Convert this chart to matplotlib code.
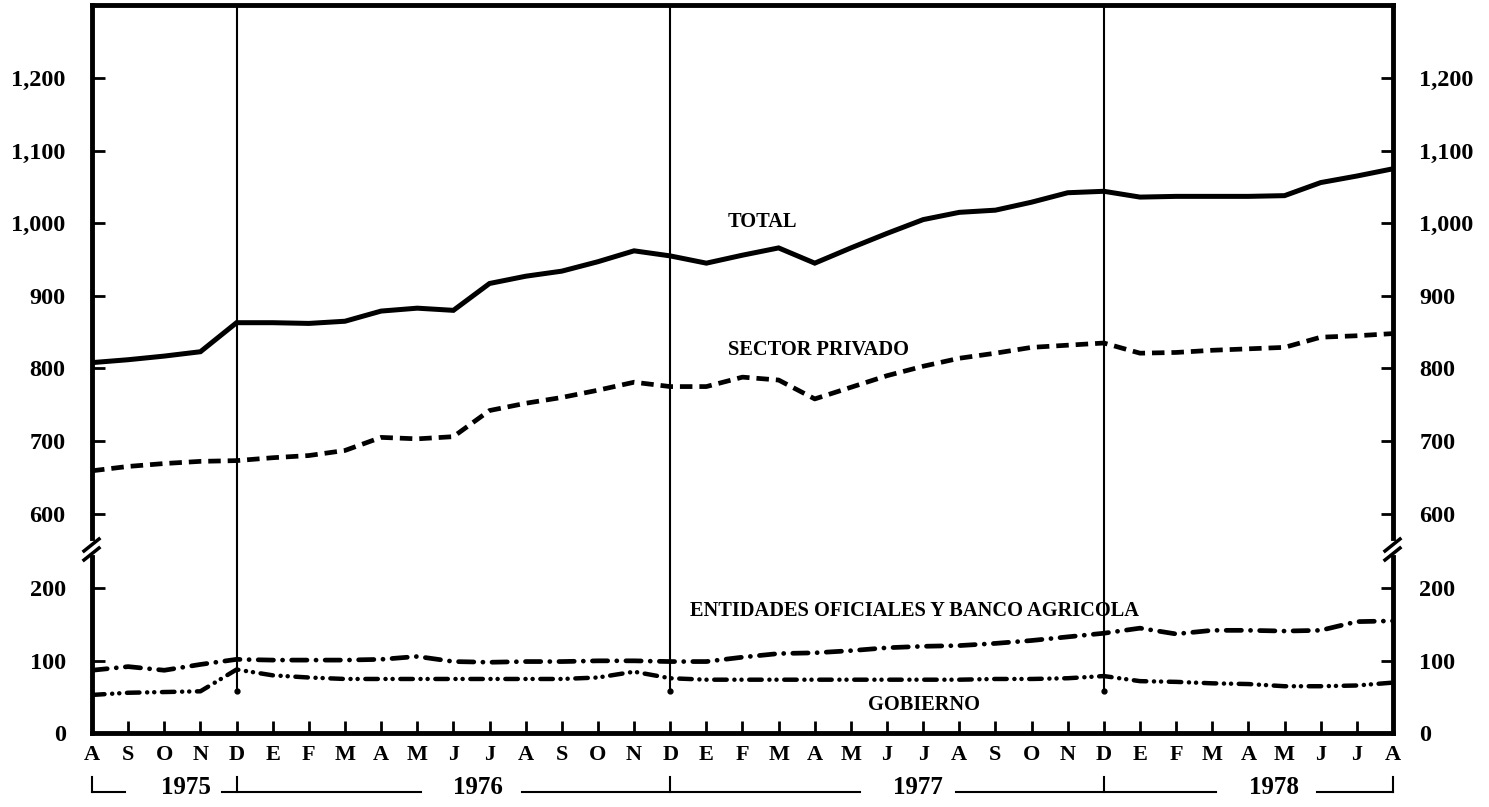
import matplotlib
matplotlib.use('Agg')
import matplotlib.pyplot as plt
import matplotlib.transforms as mtransforms
from matplotlib.ticker import StrMethodFormatter
from matplotlib.lines import Line2D

plt.rcParams['font.family'] = 'Liberation Serif'
plt.rcParams['font.weight'] = 'bold'
plt.rcParams['lines.scale_dashes'] = False

# meses de agosto 1975 a agosto 1978
meses = ['A', 'S', 'O', 'N', 'D', 'E', 'F', 'M', 'A', 'M', 'J', 'J', 'A', 'S', 'O', 'N', 'D',
         'E', 'F', 'M', 'A', 'M', 'J', 'J', 'A', 'S', 'O', 'N', 'D',
         'E', 'F', 'M', 'A', 'M', 'J', 'J', 'A']
total = [808, 812, 817, 823, 863, 863, 862, 865, 879, 883, 880, 917, 927, 934, 947, 962, 955,
         945, 956, 966, 945, 966, 986, 1005, 1015, 1018, 1029, 1042, 1044,
         1036, 1037, 1037, 1037, 1038, 1056, 1065, 1075]
privado = [659, 665, 669, 672, 673, 677, 680, 687, 705, 703, 706, 742, 752, 760, 770, 781, 775,
           775, 788, 784, 758, 774, 790, 803, 814, 821, 829, 832, 835,
           821, 822, 825, 827, 829, 843, 845, 848]
entidades = [87, 92, 87, 95, 102, 101, 101, 101, 102, 106, 99, 98, 99, 99, 100, 100, 99,
             99, 105, 110, 111, 114, 118, 120, 121, 124, 128, 133, 138,
             145, 137, 142, 142, 141, 142, 154, 155]
gobierno = [53, 56, 57, 58, 88, 80, 77, 75, 75, 75, 75, 75, 75, 75, 77, 85, 76,
            74, 74, 74, 74, 74, 74, 74, 74, 75, 75, 76, 79,
            72, 71, 69, 68, 65, 65, 66, 70]
anios = ['1975', '1976', '1977', '1978']
ticks_arriba = [600, 700, 800, 900, 1000, 1100, 1200]
ticks_abajo = [0, 100, 200]

x = list(range(len(meses)))
diciembres = [i for i, m in enumerate(meses) if m == 'D']

fig = plt.figure(figsize=(14.89, 8.07), dpi=100)
axt = fig.add_axes([0.0618, 0.3209, 0.8737, 0.6729])
axb = fig.add_axes([0.0618, 0.0912, 0.8737, 0.2297])

axt.set_ylim(552.6, 1300.6)
axb.set_ylim(0, 255.4)
for ax in (axt, axb):
    ax.set_xlim(0, len(meses) - 1)
    for s in ax.spines.values():
        s.set_linewidth(3.5)
    ax.tick_params(axis='y', which='both', direction='in', length=9, width=2,
                   left=True, right=True, labelleft=True, labelright=True,
                   labelsize=17.5, pad=19)
    ax.yaxis.set_major_formatter(StrMethodFormatter('{x:,.0f}'))

axt.spines['bottom'].set_visible(False)
axb.spines['top'].set_visible(False)
axt.spines['left'].set_bounds(567, 1300.6)
axt.spines['right'].set_bounds(567, 1300.6)
axb.spines['left'].set_bounds(0, 243)
axb.spines['right'].set_bounds(0, 243)

axt.set_yticks(ticks_arriba)
axb.set_yticks(ticks_abajo)
axt.set_xticks([])
axb.set_xticks(x)
axb.set_xticklabels(meses)
axb.tick_params(axis='x', direction='in', length=9, width=2, labelsize=16, pad=8)

# lineas de diciembre
for d in diciembres:
    axt.axvline(d, color='black', lw=1.5)
    axb.plot([d, d], [59, 255.4], color='black', lw=1.5, solid_capstyle='round')
    axb.plot(d, 59, 'o', color='black', ms=3.5)

axt.plot(x, total, color='black', lw=3.6, solid_joinstyle='miter')
axt.plot(x, privado, color='black', lw=3.4, dashes=(9, 5))
axb.plot(x, entidades, color='black', lw=3.4, dashes=(11, 6.5, 0.1, 6.5), dash_capstyle='round')
axb.plot(x, gobierno, color='black', lw=3.2, dashes=(9, 5.5, 0.1, 5, 0.1, 5.5), dash_capstyle='round')

axt.text(17.6, 1002, 'TOTAL', fontsize=14.7, va='center', ha='left')
axt.text(17.6, 826, 'SECTOR PRIVADO', fontsize=14.7, va='center', ha='left')
axb.text(16.55, 168, 'ENTIDADES OFICIALES Y BANCO AGRICOLA', fontsize=14.7, va='center', ha='left')
axb.text(21.47, 39, 'GOBIERNO', fontsize=14.7, va='center', ha='left')

# marcas de corte del eje
for xf in (92 / 1489, 1393 / 1489):
    for dy in (0, 9):
        y0 = (807 - 551 - dy) / 807
        y1 = (807 - 539 - dy) / 807
        fig.add_artist(Line2D([xf - 8 / 1489, xf + 7 / 1489], [y0, y1],
                              transform=fig.transFigure, color='black', lw=2.5))

# fila de anios
tr = mtransforms.blended_transform_factory(axb.transData, fig.transFigure)
ylin = (807 - 792) / 807
ytick = (807 - 777) / 807
segmentos = [(0, 0.9), (3.6, 9.1), (11.9, 21.25), (23.9, 31.1), (33.9, 36)]
for a, b in segmentos:
    axb.add_line(Line2D([a, b], [ylin, ylin], transform=tr, color='black', lw=1.5, clip_on=False))
for t in [0] + diciembres + [36]:
    axb.add_line(Line2D([t, t], [ylin, ytick], transform=tr, color='black', lw=1.5, clip_on=False))
for xa, s in zip([2.6, 10.68, 22.86, 32.7], anios):
    axb.text(xa, (807 - 787) / 807, s, transform=tr, fontsize=18, ha='center', va='center')

fig.savefig('out.png', dpi=100)
